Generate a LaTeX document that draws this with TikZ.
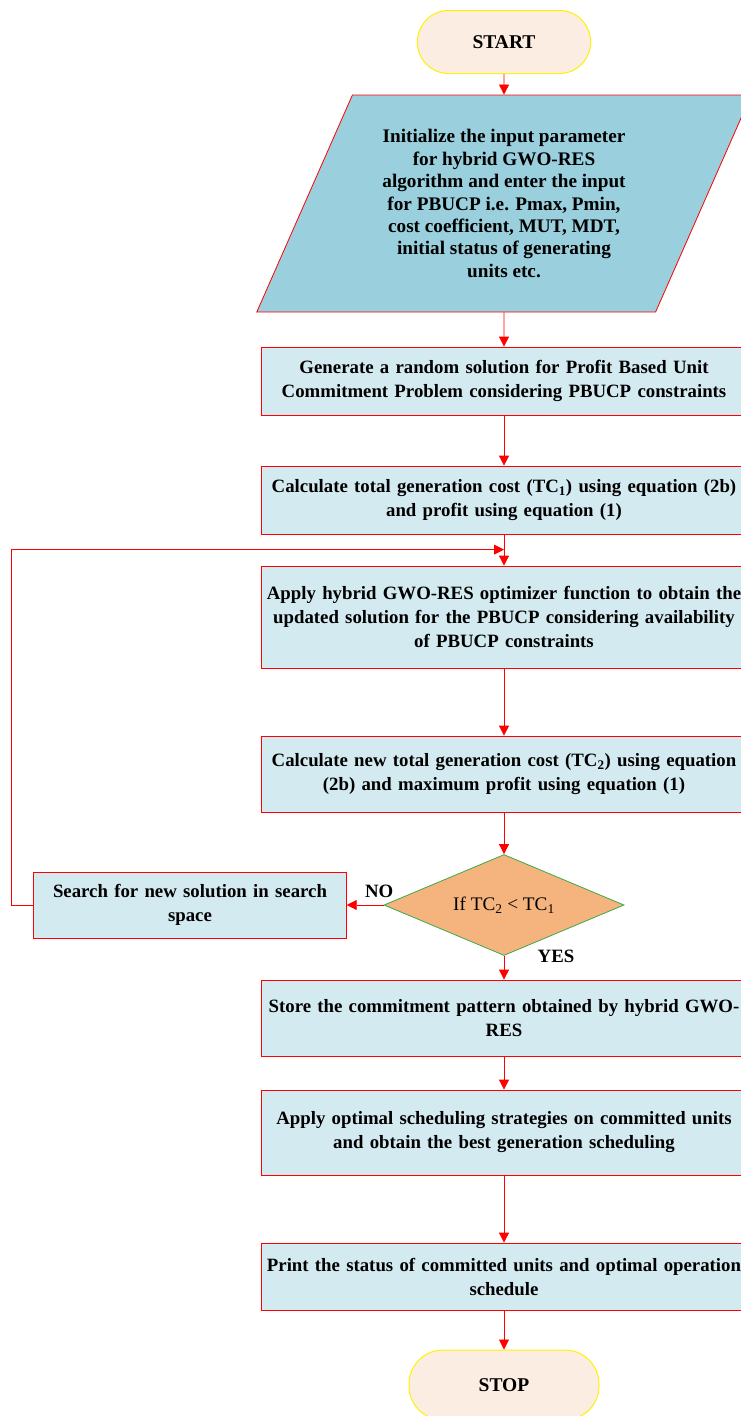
\documentclass[tikz,border=0pt]{standalone}
\usepackage{fontspec}
\setmainfont{Liberation Serif}
\usepackage{xcolor}
\usetikzlibrary{shapes.geometric,arrows.meta,positioning}

\definecolor{peach}{HTML}{FCEDE2}
\definecolor{inblue}{HTML}{9ACFDD}
\definecolor{boxblue}{HTML}{D3EAF0}
\definecolor{tcorange}{HTML}{F5B47E}
\definecolor{edgegreen}{HTML}{3CA84A}

\begin{document}
\begin{tikzpicture}[x=1pt, y=1pt, node distance=120pt, auto,
  font=\fontsize{18.8}{24}\selectfont\bfseries,
  startstop/.style={rectangle, rounded corners=31pt, minimum width=173pt, minimum height=63pt, text centered, draw=yellow, fill=peach, line width=1pt, font=\fontsize{19.5}{24}\selectfont\bfseries},
  io/.style={trapezium, trapezium left angle=63, trapezium right angle=117, trapezium stretches=true, minimum width=497pt, minimum height=217pt, align=center, draw=red, fill=inblue, line width=0.8pt, font=\fontsize{19.2}{22.4}\selectfont\bfseries},
  process/.style={rectangle, minimum width=484pt, text width=478pt, align=center, draw=red, fill=boxblue, line width=0.8pt},
  decision/.style={diamond, aspect=2.4, minimum width=240pt, minimum height=101pt, text centered, draw=edgegreen, fill=tcorange, inner sep=0pt, line width=0.8pt, font=\fontsize{19.2}{22}\selectfont},
  arrow/.style={line width=0.8pt, draw=red, -{Triangle[length=10pt,width=10pt]}}]

  \useasboundingbox (0,0) rectangle (740,-1416);

  \node (start) [startstop] at (504,-42) {START};
  \node (init) [io, below of=start, node distance=161.5pt] {Initialize the input parameter\\for hybrid GWO-RES\\algorithm and enter the input\\for PBUCP i.e. Pmax, Pmin,\\cost coefficient, MUT, MDT,\\initial status of generating\\units etc.};
  \node (gen) [process, minimum height=68pt, below of=init, node distance=177.5pt] {Generate a random solution for Profit Based Unit\\Commitment Problem considering PBUCP constraints};
  \node (calc1) [process, minimum height=68pt, below of=gen, node distance=119pt] {Calculate total generation cost (TC\textsubscript{1}) using equation (2b)\\and profit using equation (1)};
  \node (apply) [process, minimum height=102pt, below of=calc1, node distance=117pt] {Apply hybrid GWO-RES optimizer function to obtain the\\updated solution for the PBUCP considering availability\\of PBUCP constraints};
  \node (calc2) [process, minimum height=76pt, below of=apply, node distance=157pt] {Calculate new total generation cost (TC\textsubscript{2}) using equation\\(2b) and maximum profit using equation (1)};
  \node (decide) [decision, below of=calc2, node distance=131pt] {If TC\textsubscript{2} < TC\textsubscript{1}};
  \node (search) [process, minimum width=312pt, text width=306pt, minimum height=66pt, left of=decide, node distance=314pt] {Search for new solution in search\\space};
  \node (store) [process, minimum height=76pt, below of=decide, node distance=113pt] {Store the commitment pattern obtained by hybrid GWO-\\RES};
  \node (sched) [process, minimum height=85pt, below of=store, node distance=114.5pt] {Apply optimal scheduling strategies on committed units\\and obtain the best generation scheduling};
  \node (print) [process, minimum height=67pt, below of=sched, node distance=144pt] {Print the status of committed units and optimal operation\\schedule};
  \node (stop) [startstop, minimum width=190pt, minimum height=70pt, rounded corners=34pt, below of=print, node distance=108.5pt] {STOP};
  \coordinate (loop) at ([yshift=16pt]apply.north);

  \draw [arrow] (start) -- (init);
  \draw [arrow] (init) -- (gen);
  \draw [arrow] (gen) -- (calc1);
  \draw [arrow] (calc1) -- (apply);
  \draw [arrow] (apply) -- (calc2);
  \draw [arrow] (calc2) -- (decide);
  \draw [arrow] (decide) -- node[pos=0.12, above=4pt] {NO} (search);
  \draw [arrow] (search.west) -- ++(-22,0) |- (loop);
  \draw [arrow] (decide) -- node[pos=0, anchor=west, xshift=30pt] {YES} (store);
  \draw [arrow] (store) -- (sched);
  \draw [arrow] (sched) -- (print);
  \draw [arrow] (print) -- (stop);
\end{tikzpicture}
\end{document}
